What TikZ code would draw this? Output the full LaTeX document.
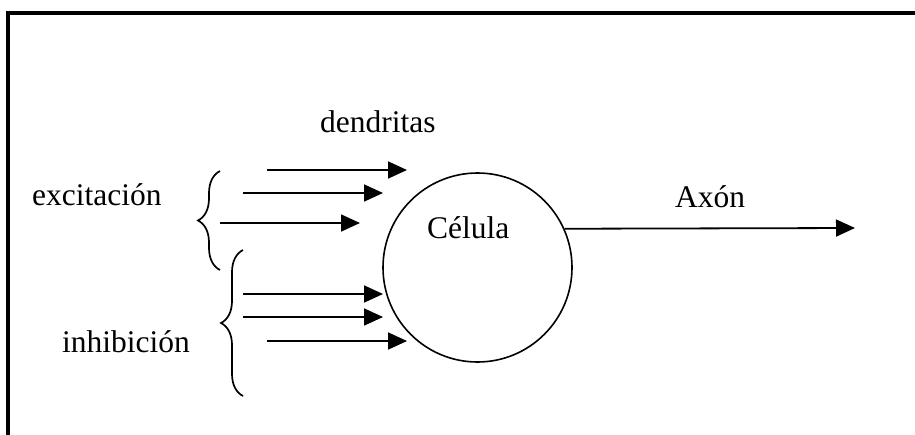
\documentclass[tikz,border=0pt]{standalone}
\usepackage{fontspec}
\setmainfont{Liberation Serif}
\usetikzlibrary{arrows.meta,decorations.pathreplacing}
\tikzset{
  lbl/.style={anchor=base west, inner sep=0pt, font=\fontsize{31.5}{36}\selectfont},
  dend/.style={line width=1.8pt, -{Triangle[length=19pt,width=17pt]}},
  brc/.style={line width=1.7pt, decorate, decoration={brace, amplitude=22pt}},
}
\begin{document}
\begin{tikzpicture}[x=1pt,y=-1pt]
\useasboundingbox (0,0) rectangle (915,434);
\clip (0,0) rectangle (915,434);
\fill[white] (0,0) rectangle (915,434);
% frame
\draw[line width=4pt] (8,500) -- (8,13) -- (1000,13);
% cell
\node[circle, draw, line width=1.6pt, minimum size=189pt, inner sep=0pt] (cell) at (477.5,267.5) {};
\node[lbl] (celula) at (427,238) {Célula};
% labels
\node[lbl] (dendritas) at (320,132) {dendritas};
\node[lbl] (exc) at (32,205) {excitación};
\node[lbl] (inh) at (62,352) {inhibición};
\node[lbl] (axon) at (675,207) {Axón};
% dendrite arrows
\coordinate (e1s) at (267,170); \coordinate (e1e) at (407,170);
\coordinate (e2s) at (243,193); \coordinate (e2e) at (383,193);
\coordinate (e3s) at (220,223); \coordinate (e3e) at (360,223);
\coordinate (i1s) at (243,294); \coordinate (i1e) at (383,294);
\coordinate (i2s) at (243,317); \coordinate (i2e) at (383,317);
\coordinate (i3s) at (267,341); \coordinate (i3e) at (407,341);
\draw[dend] (e1s) -- (e1e);
\draw[dend] (e2s) -- (e2e);
\draw[dend] (e3s) -- (e3e);
\draw[dend] (i1s) -- (i1e);
\draw[dend] (i2s) -- (i2e);
\draw[dend] (i3s) -- (i3e);
% braces
\coordinate (b1a) at (220,270); \coordinate (b1b) at (220,171);
\coordinate (b2a) at (243,396); \coordinate (b2b) at (243,250);
\draw[brc] (b1a) -- (b1b);
\draw[brc] (b2a) -- (b2b);
% axon
\coordinate (axend) at (855,228);
\draw[dend] (cell.24.7) -- (axend);
\end{tikzpicture}
\end{document}
